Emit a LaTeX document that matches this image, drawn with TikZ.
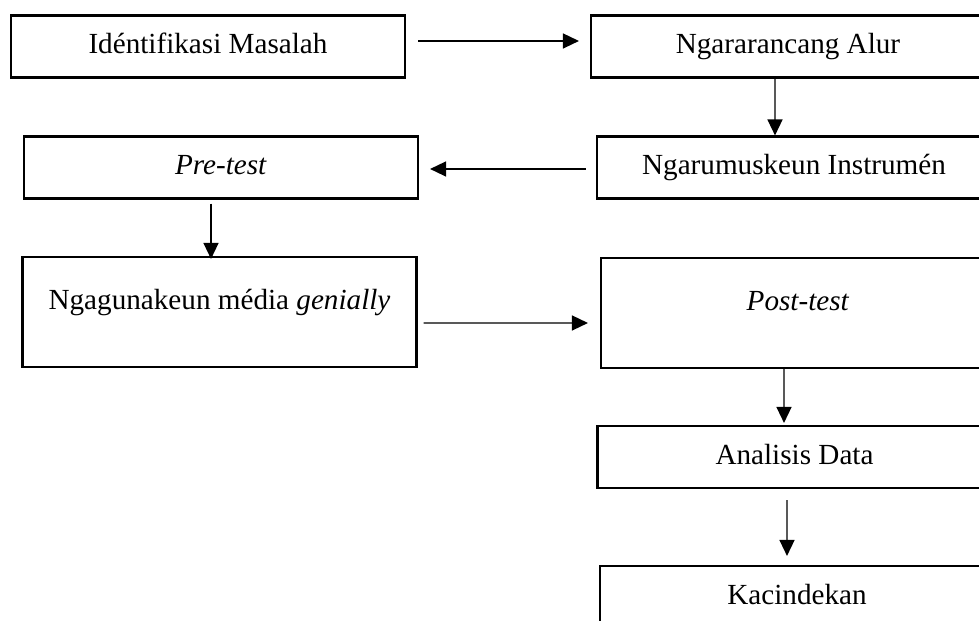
\documentclass[tikz,border=0pt]{standalone}
\usepackage{fontspec}
\setmainfont{Liberation Serif}
\usetikzlibrary{arrows.meta}

\begin{document}
\begin{tikzpicture}[
    box/.style={draw, line width=0.6pt, minimum width=3.94cm, minimum height=0.62cm, inner sep=0pt,
        text height=0.2cm, text depth=0.05cm, font=\fontsize{8.3}{10}\selectfont},
    tallbox/.style={box, minimum height=1.1cm, text depth=0.24cm},
    arr/.style={-{Triangle[length=1.6mm,width=1.5mm]}, line width=0.4pt}]
            \useasboundingbox (0,0) rectangle (9.79,6.21);
            \clip (0,0) rectangle (9.79,6.21);

            \node[box] (idn) at (2.08,5.745) {Idéntifikasi Masalah};
            \node[box] (alur) at (7.88,5.745) {Ngararancang Alur};
            \node[box] (instrumen) at (7.94,4.535) {Ngarumuskeun Instrumén};
            \node[box] (pretest) at (2.21,4.535) {\textit{Pre-test}};
            \node[tallbox] (media) at (2.195,3.09) {Ngagunakeun média \textit{genially}};
            \node[tallbox] (posttest) at (7.98,3.08) {\textit{Post-test}};
            \node[box] (analisis) at (7.945,1.64) {Analisis Data};
            \node[box] (kacindekan) at (7.97,0.24) {Kacindekan};

            \draw[arr, shorten <=1.2mm, shorten >=1.1mm] ([yshift=0.55mm]idn.east) -- ([yshift=0.55mm]alur.west);
            \draw[arr] ([xshift=-1.3mm]alur.south) -- ([xshift=-1.9mm]instrumen.north);
            \draw[arr, shorten <=1mm, shorten >=1.1mm] ([yshift=-0.15mm]instrumen.west) -- ([yshift=-0.15mm]pretest.east);
            \draw[arr, shorten <=0.4mm, shorten >=-0.3mm] ([xshift=-1mm]pretest.south) -- ([xshift=-0.85mm]media.north);
            \draw[arr, shorten <=0.6mm, shorten >=1.2mm] ([yshift=-1.1mm]media.east) -- ([yshift=-1mm]posttest.west);
            \draw[arr, shorten >=0.2mm] ([xshift=-1.4mm]posttest.south) -- ([xshift=-1.05mm]analisis.north);
            \draw[arr, shorten <=1.1mm, shorten >=0.9mm] ([xshift=-0.75mm]analisis.south) -- ([xshift=-1mm]kacindekan.north);
        \end{tikzpicture}
\end{document}
